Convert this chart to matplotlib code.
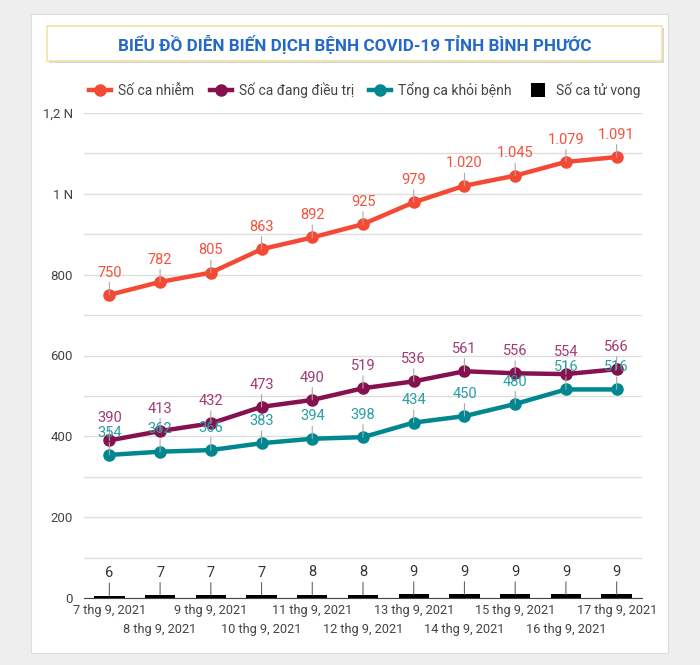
import matplotlib
matplotlib.use("Agg")
import matplotlib.pyplot as plt
from matplotlib.patches import Rectangle
from matplotlib.lines import Line2D
import numpy as np

plt.rcParams["font.family"] = ["Roboto", "DejaVu Sans"]

# data
dates = ["7 thg 9, 2021", "8 thg 9, 2021", "9 thg 9, 2021", "10 thg 9, 2021",
         "11 thg 9, 2021", "12 thg 9, 2021", "13 thg 9, 2021", "14 thg 9, 2021",
         "15 thg 9, 2021", "16 thg 9, 2021", "17 thg 9, 2021"]
infected = [750, 782, 805, 863, 892, 925, 979, 1020, 1045, 1079, 1091]
treating = [390, 413, 432, 473, 490, 519, 536, 561, 556, 554, 566]
recovered = [354, 362, 366, 383, 394, 398, 434, 450, 480, 516, 516]
deaths = [6, 7, 7, 7, 8, 8, 9, 9, 9, 9, 9]

y_ticks = [0, 200, 400, 600, 800, 1000, 1200]
y_labels = ["0", "200", "400", "600", "800", "1 N", "1,2 N"]

W, H = 700, 665
fig = plt.figure(figsize=(7, 6.65), dpi=100, facecolor="#eeeeee")

def fx(px):
    return px / W

def fy(py):
    return 1 - py / H

def fmt(v):
    # vietnamese thousands separator
    return f"{v:,}".replace(",", ".")

# white card
fig.patches.append(Rectangle((fx(31), fy(653)), fx(637), 639 / H, transform=fig.transFigure,
                             facecolor="white", edgecolor="#dddddd", lw=0.8, zorder=0))
# title box with shadow
fig.patches.append(Rectangle((fx(49), fy(63)), fx(615), 35 / H, transform=fig.transFigure,
                             facecolor="#d8d8d8", edgecolor="none", zorder=1))
fig.patches.append(Rectangle((fx(47), fy(61)), fx(615), 35 / H, transform=fig.transFigure,
                             facecolor="white", edgecolor="#f3e2a6", lw=1.2, zorder=2))
fig.text(fx(355), fy(44), "BIỂU ĐỒ DIỄN BIẾN DỊCH BỆNH COVID-19 TỈNH BÌNH PHƯỚC",
         ha="center", va="center", fontsize=12.3, fontweight="bold", color="#2369c9", zorder=3)

ax = fig.add_axes([fx(84), fy(598), fx(642 - 84), (598 - 113) / H])
ax.set_zorder(5)
ax.set_facecolor("none")
x = np.arange(len(dates))

c_inf, c_trt, c_rec = "#f44a35", "#85124f", "#00878f"
l_inf, l_trt, l_rec = "#f4513b", "#a33a72", "#2a9ea6"

ax.bar(x, deaths, width=0.6, color="black", zorder=3)
ax.plot(x, infected, color=c_inf, lw=3.2, marker="o", ms=8, zorder=4)
ax.plot(x, treating, color=c_trt, lw=3.2, marker="o", ms=8, zorder=4)
ax.plot(x, recovered, color=c_rec, lw=3.2, marker="o", ms=8, zorder=4)

def label(vals, color, lead):
    for xi, v in zip(x, vals):
        ax.annotate(fmt(v), (xi, v), xytext=(0, 11), textcoords="offset points",
                    ha="center", va="bottom", fontsize=10.5, color=color, zorder=5,
                    arrowprops=dict(arrowstyle="-", color=lead, lw=0.8,
                                    shrinkA=0, shrinkB=0))

label(infected, l_inf, "#aaaaaa")
label(treating, l_trt, "#aaaaaa")
label(recovered, l_rec, "#aaaaaa")
label(deaths, "#333333", "#666666")

ax.set_xlim(-0.5, len(dates) - 0.5)
ax.set_ylim(0, 1200)
ax.set_yticks(y_ticks)
ax.set_yticklabels(y_labels)
ax.set_yticks(np.arange(100, 1200, 200), minor=True)
ax.grid(axis="y", which="both", color="#dddddd", lw=1, zorder=0)
ax.set_xticks(x)
ax.set_xticklabels([])
# staggered date labels, two rows
for i, d in enumerate(dates):
    ax.annotate(d, (x[i], 0), xytext=(0, -4 if i % 2 == 0 else -18), textcoords="offset points",
                ha="center", va="top", fontsize=9.2, color="#444444", annotation_clip=False)
ax.tick_params(axis="both", which="both", length=0, labelsize=9.5, colors="#444444")
ax.tick_params(axis="y", pad=8)
for s in ["top", "right", "left"]:
    ax.spines[s].set_visible(False)
ax.spines["bottom"].set_color("#444444")
ax.spines["bottom"].set_zorder(2)

handles = [
    Line2D([], [], color=c_inf, lw=3.2, marker="o", ms=8),
    Line2D([], [], color=c_trt, lw=3.2, marker="o", ms=8),
    Line2D([], [], color=c_rec, lw=3.2, marker="o", ms=8),
    Line2D([], [], color="black", marker="s", ms=10, lw=0, markeredgewidth=0),
]
names = ["Số ca nhiễm", "Số ca đang điều trị", "Tổng ca khỏi bệnh", "Số ca tử vong"]
leg = fig.legend(handles, names, loc="center", bbox_to_anchor=(fx(365), fy(90)), ncol=4,
                 frameon=False, fontsize=10, handlelength=1.6, columnspacing=1.1,
                 handletextpad=0.5)
for t in leg.get_texts():
    t.set_color("#444444")

fig.savefig("out.png", dpi=100, facecolor=fig.get_facecolor())
